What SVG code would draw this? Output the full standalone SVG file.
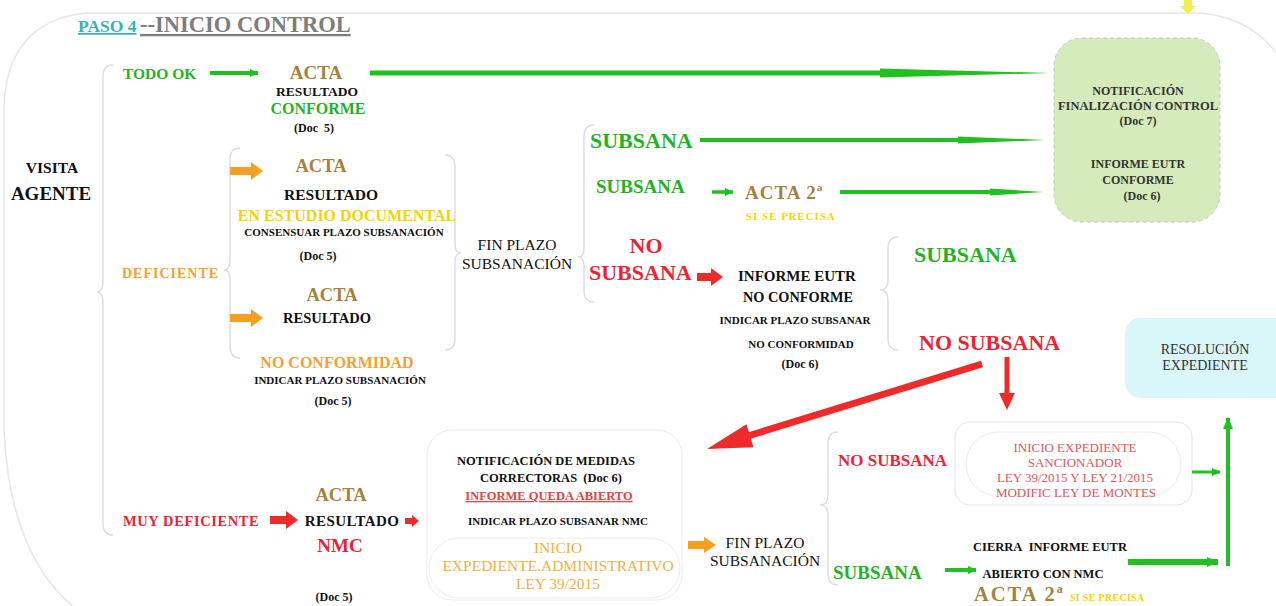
<svg xmlns="http://www.w3.org/2000/svg" width="1276" height="606" viewBox="0 0 1276 606" font-family="'Liberation Serif', 'DejaVu Serif', serif">
<style>
text{font-family:'Liberation Serif','DejaVu Serif',serif;font-weight:bold;}
.reg{font-weight:normal;}
.c{text-anchor:middle;}
.g{fill:#1fb31f;}
.gold{fill:#a8803a;}
.r{fill:#ee2233;}
.o{fill:#f5a030;}
.y{fill:#f3d400;}
.k{fill:#111;}
.brace{fill:none;stroke:#dcdcdc;stroke-width:1.4;}
.frame{fill:none;stroke:#e6e6e6;stroke-width:1.5;}
.gl{stroke:#1fc01f;fill:none;}
.gf{fill:#1fc01f;}
.rf{fill:#ee2a2a;}
.of{fill:#f5a020;}
</style>
<defs>
<marker id="gh" markerWidth="12" markerHeight="10" refX="11" refY="5" orient="auto" markerUnits="userSpaceOnUse"><path d="M0,0 L12,5 L0,10 z" fill="#1fc01f"/></marker>
<marker id="ghs" markerWidth="9" markerHeight="8" refX="8" refY="4" orient="auto" markerUnits="userSpaceOnUse"><path d="M0,0 L9,4 L0,8 z" fill="#1fc01f"/></marker>
</defs>
<rect width="1276" height="606" fill="#fff"/>
<g id="frame">
<path class="frame" d="M85,13 L1195,13 Q1260,15 1290,75"/>
<path class="frame" d="M85,13 Q8,22 4,105 L4,430 Q10,560 80,612"/>
<path d="M1184,0 L1192,0 L1192,6 L1196,6 L1188,14 L1180,6 L1184,6 Z" fill="#f2ee50"/>
</g>
<g id="title">
<text x="78" y="32" font-size="17.5" fill="#33b3bd" text-decoration="underline">PASO 4 </text>
<text x="140" y="32" font-size="22.5" fill="#7d7d7d" text-decoration="underline">--INICIO CONTROL</text>
</g>
<g id="braces">
<path class="brace" d="M113,65 Q103,65 103,77 L103,282 Q103,292 97,292 Q103,292 103,302 L103,523 Q103,535 113,535"/>
<path class="brace" d="M240,148 Q230,148 230,160 L230,260 Q230,270 224,270 Q230,270 230,280 L230,346 Q230,358 240,358"/>
<path class="brace" d="M445,155 Q455,155 455,167 L455,243 Q455,253 461,253 Q455,253 455,263 L455,338 Q455,350 445,350"/>
<path class="brace" d="M594,125 Q584,125 584,137 L584,247 Q584,257 578,257 Q584,257 584,267 L584,290 Q584,302 594,302"/>
<path class="brace" d="M898,237 Q888,237 888,249 L888,280 Q888,290 880,290 Q888,290 888,300 L888,338 Q888,350 898,350"/>
<path class="brace" d="M838,432 Q828,432 828,444 L828,495 Q828,505 820,505 Q828,505 828,515 L828,573 Q828,585 838,585"/>
</g>
<g id="visita">
<text class="k c" x="52" y="173" font-size="15.5">VISITA</text>
<text class="k c" x="51" y="200" font-size="19">AGENTE</text>
</g>
<g id="todo-ok">
<text class="g" x="123" y="79" font-size="15.5">TODO OK</text>
</g>
<g id="acta-conforme">
<text class="gold c" x="316" y="79" font-size="19">ACTA</text>
<text class="k c" x="317" y="96" font-size="13.5">RESULTADO</text>
<text class="g c" x="318" y="114" font-size="16">CONFORME</text>
<text class="k c" x="314" y="132" font-size="12">(Doc&#160; 5)</text>
</g>
<g id="deficiente">
<text class="o" x="122" y="278" font-size="14" letter-spacing="1">DEFICIENTE</text>
</g>
<g id="acta-estudio">
<text class="gold c" x="321" y="172" font-size="18.5">ACTA</text>
<text class="k c" x="331" y="200" font-size="15.5">RESULTADO</text>
<text class="y c" x="347" y="221" font-size="16">EN ESTUDIO DOCUMENTAL</text>
<text class="k c" x="344" y="236" font-size="11">CONSENSUAR PLAZO SUBSANACIÓN</text>
<text class="k c" x="318" y="260" font-size="12">(Doc 5)</text>
</g>
<g id="acta-noconf">
<text class="gold c" x="332" y="301" font-size="18.5">ACTA</text>
<text class="k c" x="327" y="323" font-size="14.5">RESULTADO</text>
<text class="o c" x="337" y="368" font-size="16">NO CONFORMIDAD</text>
<text class="k c" x="340" y="384" font-size="11">INDICAR PLAZO SUBSANACIÓN</text>
<text class="k c" x="333" y="405" font-size="12">(Doc 5)</text>
</g>
<g id="fin-plazo-1">
<text class="k c reg" x="517" y="250" font-size="15.5">FIN PLAZO</text>
<text class="k c reg" x="517" y="269" font-size="15.5">SUBSANACIÓN</text>
</g>
<g id="subsana-1">
<text class="g" x="590" y="148" font-size="22">SUBSANA</text>
</g>
<g id="subsana-2">
<text class="g" x="596" y="193" font-size="19">SUBSANA</text>
<text class="gold" x="745" y="199" font-size="19" letter-spacing="1">ACTA 2ª</text>
<text class="y" x="746" y="220" font-size="10.5" letter-spacing="1.2">SI SE PRECISA</text>
</g>
<g id="no-subsana-1">
<text class="r c" x="646" y="253" font-size="22">NO</text>
<text class="r" x="589" y="280" font-size="22">SUBSANA</text>
</g>
<g id="informe-no-conforme">
<text class="k c" x="797" y="281" font-size="15">INFORME EUTR</text>
<text class="k c" x="798" y="302" font-size="14.3">NO CONFORME</text>
<text class="k c" x="795" y="324" font-size="11">INDICAR PLAZO SUBSANAR</text>
<text class="k c" x="801" y="348" font-size="11">NO CONFORMIDAD</text>
<text class="k c" x="800" y="368" font-size="12">(Doc 6)</text>
</g>
<g id="subsana-3">
<text class="g" x="914" y="262" font-size="22">SUBSANA</text>
</g>
<g id="no-subsana-2">
<text class="r" x="919" y="350" font-size="22">NO SUBSANA</text>
</g>
<g id="notificacion-final">
<rect x="1054" y="38" width="166" height="184" rx="28" fill="#d6ebbb" stroke="#c4c4c4" stroke-dasharray="4,3"/>
<text class="c" x="1138" y="95" font-size="12" fill="#333">NOTIFICACIÓN</text>
<text class="c" x="1138" y="110" font-size="12.5" fill="#333">FINALIZACIÓN CONTROL</text>
<text class="c" x="1138" y="125" font-size="12" fill="#333">(Doc 7)</text>
<text class="c" x="1138" y="168" font-size="12" fill="#333">INFORME EUTR</text>
<text class="c" x="1138" y="184" font-size="12" fill="#333">CONFORME</text>
<text class="c" x="1142" y="200" font-size="12" fill="#333">(Doc 6)</text>
</g>
<g id="resolucion">
<rect x="1125" y="318" width="170" height="80" rx="15" fill="#d9f6f8"/>
<text class="c reg" x="1205" y="354" font-size="14" fill="#333">RESOLUCIÓN</text>
<text class="c reg" x="1205" y="370" font-size="14" fill="#333">EXPEDIENTE</text>
</g>
<g id="muy-deficiente">
<text class="r" x="123" y="526" font-size="14.5" letter-spacing="0.6">MUY DEFICIENTE</text>
</g>
<g id="acta-nmc">
<text class="gold c" x="341" y="501" font-size="18.5">ACTA</text>
<text class="k c" x="352" y="526" font-size="15" letter-spacing="0.4">RESULTADO</text>
<text class="r c" x="340" y="552" font-size="19">NMC</text>
<text class="k c" x="334" y="601" font-size="12">(Doc 5)</text>
</g>
<g id="medidas-correctoras">
<rect x="427" y="430" width="255" height="170" rx="25" fill="#fff" stroke="#ececec"/>
<rect x="429" y="538" width="251" height="60" rx="30" fill="none" stroke="#ececec"/>
<text class="k c" x="546" y="465" font-size="12.5">NOTIFICACIÓN DE MEDIDAS</text>
<text class="k c" x="551" y="482" font-size="12.5">CORRECTORAS&#160; (Doc 6)</text>
<text class="c" x="549" y="500" font-size="12.5" fill="#e84040" text-decoration="underline">INFORME QUEDA ABIERTO</text>
<text class="k c" x="558" y="525" font-size="11">INDICAR PLAZO SUBSANAR NMC</text>
<text class="c reg" x="558" y="553" font-size="15.5" fill="#f2b040">INICIO</text>
<text class="c reg" x="558" y="571" font-size="15.5" fill="#f2b040">EXPEDIENTE.ADMINISTRATIVO</text>
<text class="c reg" x="558" y="589" font-size="15.5" fill="#f2b040">LEY 39/2015</text>
</g>
<g id="fin-plazo-2">
<text class="k c reg" x="765" y="548" font-size="15.5">FIN PLAZO</text>
<text class="k c reg" x="765" y="566" font-size="15.5">SUBSANACIÓN</text>
</g>
<g id="no-subsana-3">
<text class="r" x="838" y="466" font-size="17">NO SUBSANA</text>
</g>
<g id="sancionador">
<rect x="955" y="422" width="237" height="83" rx="15" fill="#fff" stroke="#e6e6e6"/>
<rect x="966" y="432" width="215" height="64" rx="32" fill="none" stroke="#ececec"/>
<text class="c reg" x="1075" y="452" font-size="13" fill="#e25555">INICIO EXPEDIENTE</text>
<text class="c reg" x="1075" y="467" font-size="13" fill="#e25555">SANCIONADOR</text>
<text class="c reg" x="1075" y="482" font-size="13" fill="#e25555">LEY 39/2015 Y LEY 21/2015</text>
<text class="c reg" x="1076" y="497" font-size="13" fill="#e25555">MODIFIC LEY DE MONTES</text>
</g>
<g id="subsana-4">
<text class="g" x="833" y="579" font-size="19">SUBSANA</text>
</g>
<g id="cierra-informe">
<text class="k c" x="1050" y="551" font-size="12.5">CIERRA&#160; INFORME EUTR</text>
<text class="k c" x="1043" y="578" font-size="12.5">ABIERTO CON NMC</text>
<text class="gold" x="974" y="601" font-size="20.5" letter-spacing="2">ACTA 2ª</text>
<text class="y" x="1070" y="601" font-size="10" letter-spacing="0.3">SI SE PRECISA</text>
</g>
<g id="connectors">
<line class="gl" x1="210" y1="73" x2="258" y2="73" stroke-width="4" marker-end="url(#ghs)"/>
<line class="gl" x1="370" y1="73" x2="882" y2="73" stroke-width="5"/>
<polygon class="gf" points="880,68.5 1050,73 880,77.5"/>
<line class="gl" x1="700" y1="140" x2="960" y2="140" stroke-width="4"/>
<polygon class="gf" points="958,136.5 1045,140 958,143.5"/>
<line class="gl" x1="712" y1="192" x2="733" y2="192" stroke-width="3.5" marker-end="url(#ghs)"/>
<line class="gl" x1="840" y1="192" x2="992" y2="192" stroke-width="4"/>
<polygon class="gf" points="990,188.5 1043,192 990,195.5"/>
<polygon class="of" points="230,167 251,167 251,162 263,171 251,180 251,175 230,175"/>
<polygon class="of" points="230,314 251,314 251,309 263,318 251,327 251,322 230,322"/>
<polygon class="rf" points="697,273 711,273 711,268 723,277 711,286 711,281 697,281"/>
<line x1="982" y1="364" x2="748" y2="436" stroke="#ee2a2a" stroke-width="7"/>
<polygon class="rf" points="707,449 753.5,447.3 746.5,424.3"/>
<line x1="1007" y1="357" x2="1007" y2="395" stroke="#ee2a2a" stroke-width="5"/>
<polygon class="rf" points="999,393 1015,393 1007,410"/>
<polygon class="rf" points="270,516 286,516 286,511 298,520 286,529 286,524 270,524"/>
<polygon class="rf" points="405,518 412,518 412,515 419,521 412,527 412,524 405,524"/>
<polygon class="of" points="688,541 704,541 704,537 716,545 704,553 704,549 688,549"/>
<line class="gl" x1="945" y1="570" x2="976" y2="570" stroke-width="4" marker-end="url(#ghs)"/>
<line class="gl" x1="1128" y1="562" x2="1218" y2="562" stroke-width="6" marker-end="url(#gh)"/>
<line class="gl" x1="1192" y1="472" x2="1220" y2="472" stroke-width="3" marker-end="url(#ghs)"/>
<line class="gl" x1="1228" y1="566" x2="1228" y2="418" stroke-width="4" marker-end="url(#gh)"/>
</g>
</svg>
